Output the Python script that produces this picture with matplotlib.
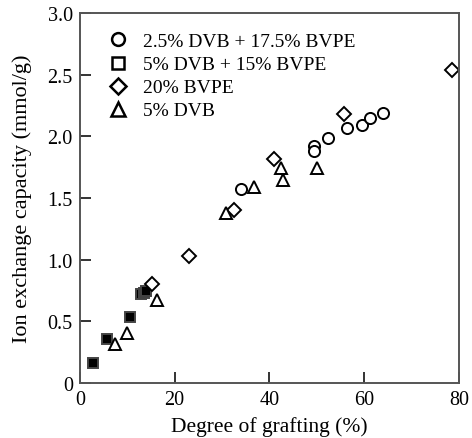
import matplotlib
matplotlib.use('Agg')

import matplotlib.pyplot as plt
import numpy as np

# 2.5% DVB + 17.5% BVPE
circ_x = [34.1, 49.4, 49.4, 52.3, 56.4, 59.6, 61.2, 63.9]
circ_y = [1.57, 1.92, 1.88, 1.99, 2.07, 2.09, 2.15, 2.19]

# 5% DVB + 15% BVPE
sq_x = [2.8, 5.8, 10.5, 12.9, 13.5, 14.0]
sq_y = [0.16, 0.36, 0.54, 0.72, 0.73, 0.75]

# 20% BVPE
dia_x = [15.3, 23.0, 32.6, 41.1, 55.7, 78.6]
dia_y = [0.80, 1.03, 1.40, 1.82, 2.18, 2.54]

# 5% DVB
tri_x = [7.4, 10.0, 16.4, 30.8, 36.8, 42.5, 43.0, 50.1]
tri_y = [0.32, 0.41, 0.67, 1.38, 1.59, 1.74, 1.65, 1.74]

yticks = [0, 0.5, 1.0, 1.5, 2.0, 2.5, 3.0]
ytick_labels = ['0', '0.5', '1.0', '1.5', '2.0', '2.5', '3.0']
xticks = [0, 20, 40, 60, 80]


def main():
    plt.rcParams['font.family'] = ['Liberation Serif', 'DejaVu Serif']
    plt.rcParams['font.size'] = 14

    fig = plt.figure(figsize=(4.72, 4.39), dpi=100)
    ax = fig.add_axes([0.169, 0.125, 0.803, 0.843])

    ms = 8
    kw = dict(linestyle='none', markerfacecolor='white', markeredgecolor='black',
              markeredgewidth=1.4, markersize=ms)
    ax.plot(circ_x, circ_y, marker='o', label='2.5% DVB + 17.5% BVPE', **kw)
    ax.plot(sq_x, sq_y, marker='s', markersize=ms - 1, linestyle='none',
            markerfacecolor='black', markeredgecolor='#444444', markeredgewidth=1.4)
    ax.plot([], [], marker='s', label='5% DVB + 15% BVPE',
            **dict(kw, markersize=ms - 1))
    ax.plot(dia_x, dia_y, marker='D', label='20% BVPE', **dict(kw, markersize=ms - 1))
    ax.plot(tri_x, tri_y, marker='^', label='5% DVB', **dict(kw, markersize=ms + 1))

    ax.set_xlim(0, 80)
    ax.set_ylim(0, 3.0)
    ax.set_xticks(xticks)
    ax.set_yticks(yticks)
    ax.set_yticklabels(ytick_labels)
    ax.tick_params(direction='in', length=8, width=1.4, colors='#333333',
                   labelcolor='black', labelsize=14.5, pad=5)
    for s in ax.spines.values():
        s.set_color('#555555')
        s.set_linewidth(1.4)

    ax.set_xlabel('Degree of grafting (%)', fontsize=15.5, labelpad=5)
    ax.set_ylabel('Ion exchange capacity (mmol/g)', fontsize=16, labelpad=11)

    leg = ax.legend(loc='upper left', frameon=False, handlelength=1.0,
                    handletextpad=0.79, labelspacing=0.28, borderaxespad=0,
                    borderpad=0, fontsize=14, markerscale=1.15,
                    bbox_to_anchor=(0.0747, 0.947))
    for h in leg.legend_handles:
        h.set_markeredgewidth(1.8)

    fig.savefig('out.png', dpi=100)
    plt.close(fig)


if __name__ == '__main__':
    main()
